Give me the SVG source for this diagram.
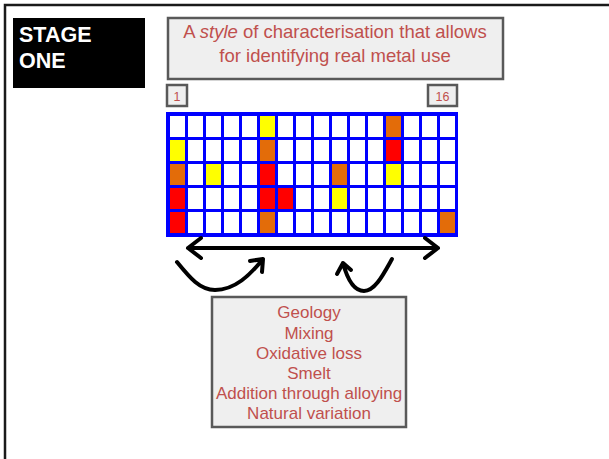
<svg xmlns="http://www.w3.org/2000/svg" width="609" height="459" viewBox="0 0 609 459">
<defs>
<style>
.lbl{font-family:"Liberation Sans",Arial,sans-serif;fill:#C0504D;text-anchor:middle}
.box{fill:#EFEFEF;stroke:#595959;stroke-width:2.5}
.w{fill:#FFFFFF}
.y{fill:#FFFF00}
.o{fill:#E36C09}
.r{fill:#FF0000}
.ar{fill:none;stroke:#000;stroke-width:4;stroke-linecap:round;stroke-linejoin:round}
</style>
</defs>
<rect x="0" y="0" width="609" height="459" fill="#FFFFFF"/>
<path d="M5 459 V5 H609" fill="none" stroke="#1a1a1a" stroke-width="2.5"/>
<g id="stage">
<rect x="13" y="18" width="132" height="70" fill="#000"/>
<text x="19" y="42" font-family="Liberation Sans,Arial,sans-serif" font-weight="bold" font-size="21.5" fill="#FFF">STAGE</text>
<text x="19" y="68" font-family="Liberation Sans,Arial,sans-serif" font-weight="bold" font-size="21.5" fill="#FFF">ONE</text>
</g>
<g id="title">
<rect class="box" x="168" y="18" width="335" height="61"/>
<text class="lbl" x="335" y="38" font-size="18.5">A <tspan font-style="italic">style</tspan> of characterisation that allows</text>
<text class="lbl" x="335" y="62" font-size="18.5">for identifying real metal use</text>
</g>
<g id="n1">
<rect class="box" x="167" y="85" width="20" height="21"/>
<text class="lbl" x="177" y="100.5" font-size="12.5">1</text>
</g>
<g id="n16">
<rect class="box" x="428" y="85" width="29" height="21"/>
<text class="lbl" x="442.5" y="100.5" font-size="12.5">16</text>
</g>
<g id="grid">
<rect x="166" y="112" width="292" height="125" fill="#0000FF"/>
<g id="row0">
<rect class="w" x="170" y="116" width="15" height="21"/><rect class="w" x="188" y="116" width="15" height="21"/><rect class="w" x="206" y="116" width="15" height="21"/><rect class="w" x="224" y="116" width="15" height="21"/><rect class="w" x="242" y="116" width="15" height="21"/><rect class="y" x="260" y="116" width="15" height="21"/><rect class="w" x="278" y="116" width="15" height="21"/><rect class="w" x="296" y="116" width="15" height="21"/><rect class="w" x="314" y="116" width="15" height="21"/><rect class="w" x="332" y="116" width="15" height="21"/><rect class="w" x="350" y="116" width="15" height="21"/><rect class="w" x="368" y="116" width="15" height="21"/><rect class="o" x="386" y="116" width="15" height="21"/><rect class="w" x="404" y="116" width="15" height="21"/><rect class="w" x="422" y="116" width="15" height="21"/><rect class="w" x="440" y="116" width="15" height="21"/>
</g>
<g id="row1">
<rect class="y" x="170" y="140" width="15" height="21"/><rect class="w" x="188" y="140" width="15" height="21"/><rect class="w" x="206" y="140" width="15" height="21"/><rect class="w" x="224" y="140" width="15" height="21"/><rect class="w" x="242" y="140" width="15" height="21"/><rect class="o" x="260" y="140" width="15" height="21"/><rect class="w" x="278" y="140" width="15" height="21"/><rect class="w" x="296" y="140" width="15" height="21"/><rect class="w" x="314" y="140" width="15" height="21"/><rect class="w" x="332" y="140" width="15" height="21"/><rect class="w" x="350" y="140" width="15" height="21"/><rect class="w" x="368" y="140" width="15" height="21"/><rect class="r" x="386" y="140" width="15" height="21"/><rect class="w" x="404" y="140" width="15" height="21"/><rect class="w" x="422" y="140" width="15" height="21"/><rect class="w" x="440" y="140" width="15" height="21"/>
</g>
<g id="row2">
<rect class="o" x="170" y="164" width="15" height="21"/><rect class="w" x="188" y="164" width="15" height="21"/><rect class="y" x="206" y="164" width="15" height="21"/><rect class="w" x="224" y="164" width="15" height="21"/><rect class="w" x="242" y="164" width="15" height="21"/><rect class="r" x="260" y="164" width="15" height="21"/><rect class="w" x="278" y="164" width="15" height="21"/><rect class="w" x="296" y="164" width="15" height="21"/><rect class="w" x="314" y="164" width="15" height="21"/><rect class="o" x="332" y="164" width="15" height="21"/><rect class="w" x="350" y="164" width="15" height="21"/><rect class="w" x="368" y="164" width="15" height="21"/><rect class="y" x="386" y="164" width="15" height="21"/><rect class="w" x="404" y="164" width="15" height="21"/><rect class="w" x="422" y="164" width="15" height="21"/><rect class="w" x="440" y="164" width="15" height="21"/>
</g>
<g id="row3">
<rect class="r" x="170" y="188" width="15" height="21"/><rect class="w" x="188" y="188" width="15" height="21"/><rect class="w" x="206" y="188" width="15" height="21"/><rect class="w" x="224" y="188" width="15" height="21"/><rect class="w" x="242" y="188" width="15" height="21"/><rect class="r" x="260" y="188" width="15" height="21"/><rect class="r" x="278" y="188" width="15" height="21"/><rect class="w" x="296" y="188" width="15" height="21"/><rect class="w" x="314" y="188" width="15" height="21"/><rect class="y" x="332" y="188" width="15" height="21"/><rect class="w" x="350" y="188" width="15" height="21"/><rect class="w" x="368" y="188" width="15" height="21"/><rect class="w" x="386" y="188" width="15" height="21"/><rect class="w" x="404" y="188" width="15" height="21"/><rect class="w" x="422" y="188" width="15" height="21"/><rect class="w" x="440" y="188" width="15" height="21"/>
</g>
<g id="row4">
<rect class="r" x="170" y="212" width="15" height="21"/><rect class="w" x="188" y="212" width="15" height="21"/><rect class="w" x="206" y="212" width="15" height="21"/><rect class="w" x="224" y="212" width="15" height="21"/><rect class="w" x="242" y="212" width="15" height="21"/><rect class="o" x="260" y="212" width="15" height="21"/><rect class="w" x="278" y="212" width="15" height="21"/><rect class="w" x="296" y="212" width="15" height="21"/><rect class="w" x="314" y="212" width="15" height="21"/><rect class="w" x="332" y="212" width="15" height="21"/><rect class="w" x="350" y="212" width="15" height="21"/><rect class="w" x="368" y="212" width="15" height="21"/><rect class="w" x="386" y="212" width="15" height="21"/><rect class="w" x="404" y="212" width="15" height="21"/><rect class="w" x="422" y="212" width="15" height="21"/><rect class="o" x="440" y="212" width="15" height="21"/>
</g>
</g>
<g id="factors">
<rect class="box" x="212" y="297" width="194" height="130"/>
<text class="lbl" x="309" y="318" font-size="17">Geology</text>
<text class="lbl" x="309" y="338.5" font-size="17">Mixing</text>
<text class="lbl" x="309" y="358.5" font-size="17">Oxidative loss</text>
<text class="lbl" x="309" y="378.5" font-size="17">Smelt</text>
<text class="lbl" x="309" y="399" font-size="17">Addition through alloying</text>
<text class="lbl" x="309" y="419" font-size="17">Natural variation</text>
</g>
<g id="connectors">
<path class="ar" d="M188 248 H438 M201 238 L188 248 L201 258 M425 238 L438 248 L425 258"/>
<path class="ar" d="M177 262 C190 278 200 290 215 290 C235 290 250 275 263 259 M250 261 L263 259 L262 272"/>
<path class="ar" d="M392 259 C383 275 375 291 364 291 C353 291 347 278 343 263 M337 274 L343 263 L351 270"/>
</g>
</svg>
